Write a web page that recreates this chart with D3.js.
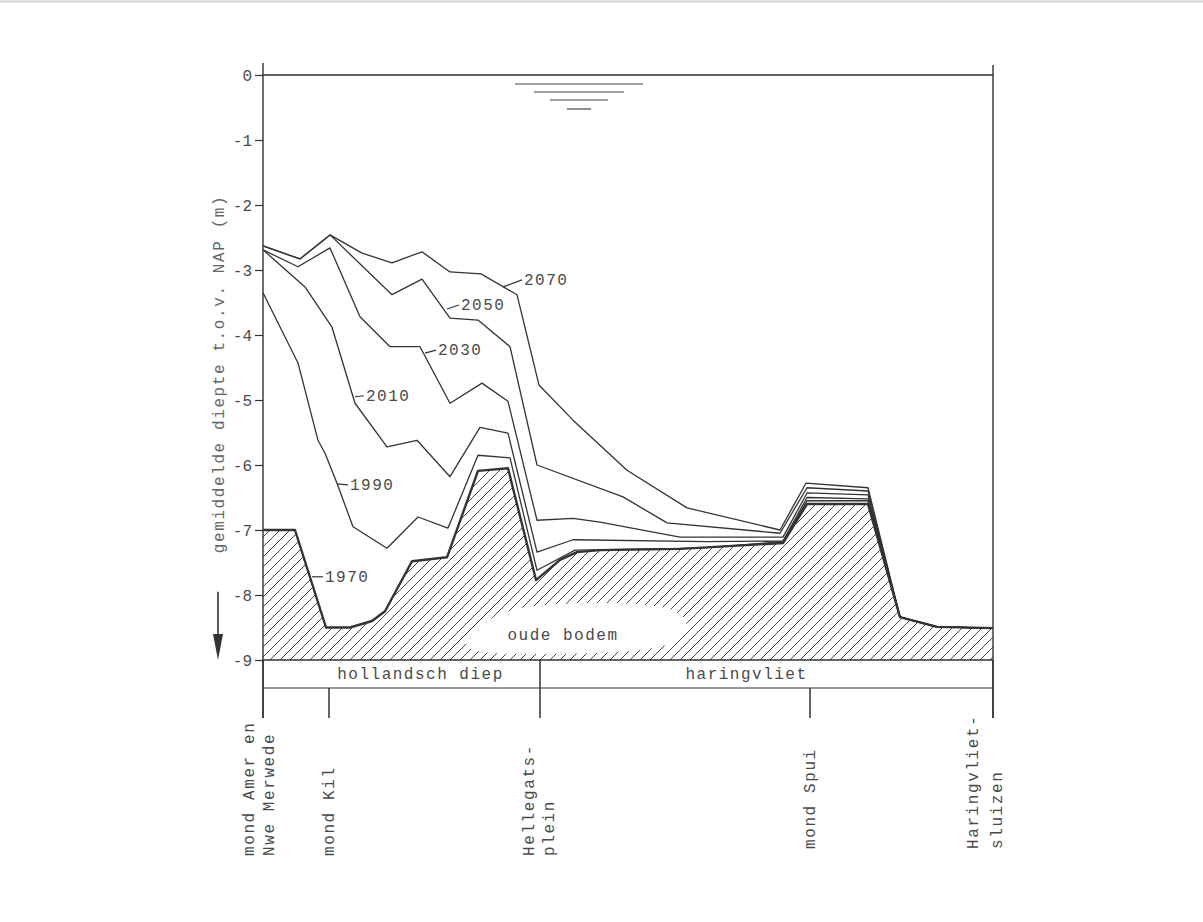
<!DOCTYPE html>
<html lang="nl">
<head>
<meta charset="UTF-8">
<title>Gemiddelde diepte Hollandsch Diep / Haringvliet</title>
<script src="https://d3js.org/d3.v7.min.js"></script>
<style>
    body { margin: 0; background: #fff; }
    svg { display: block; }
    text { font-family: "Liberation Mono", "DejaVu Sans Mono", monospace; fill: #4a4a4a; }
</style>
</head>
<body>
<div id="chart"></div>
<script>
// distance along the river (km from mond Amer) and mean depth (m t.o.v. NAP)
const bed1970 = [[0,-7.0],[1.6,-7.0],[3.15,-8.5],[4.35,-8.5],[5.45,-8.4],[6.1,-8.25],[7.45,-7.48],[9.2,-7.42],
    [10.75,-6.09],[12.25,-6.05],[13.65,-7.77],[14.85,-7.46],[15.7,-7.34],[16.85,-7.31],[20.85,-7.29],[26.0,-7.2],
    [27.2,-6.6],[30.25,-6.6],[31.85,-8.34],[33.7,-8.49],[36.5,-8.51]];
const depth1990 = [[0,-3.35],[1.75,-4.43],[2.75,-5.62],[3.1,-5.82],[3.7,-6.28],[4.5,-6.95],[6.2,-7.28],[7.75,-6.8],
    [9.25,-6.97],[10.75,-5.85],[12.35,-5.89],[13.7,-7.62],[15.6,-7.31],[21.85,-7.28],[26.0,-7.18],
    [27.2,-6.55],[30.25,-6.55],[31.85,-8.34],[33.7,-8.49],[36.5,-8.51]];
const depth2010 = [[0,-2.69],[2.1,-3.26],[3.45,-3.88],[4.6,-5.05],[6.2,-5.72],[7.7,-5.62],[9.35,-6.18],[10.85,-5.42],
    [12.25,-5.51],[13.7,-7.34],[15.5,-7.15],[22.15,-7.18],[26.0,-7.17],[27.2,-6.5],[30.25,-6.52],
    [31.85,-8.34],[33.7,-8.49],[36.5,-8.51]];
const depth2030 = [[0,-2.69],[1.75,-2.95],[3.35,-2.66],[4.85,-3.72],[6.35,-4.18],[7.85,-4.18],[9.35,-5.05],[10.95,-4.74],
    [12.25,-5.02],[13.7,-6.85],[15.5,-6.82],[16.85,-6.88],[20.85,-7.11],[26.0,-7.11],[27.2,-6.43],[30.25,-6.46],
    [31.85,-8.34],[33.7,-8.49],[36.5,-8.51]];
const depth2050 = [[0,-2.63],[1.85,-2.83],[3.35,-2.46],[6.45,-3.38],[7.95,-3.14],[9.35,-3.74],[10.75,-3.77],[12.35,-4.18],
    [13.7,-6.0],[18.0,-6.49],[20.2,-6.89],[25.85,-7.05],[27.2,-6.35],[30.25,-6.4],[31.85,-8.34],[33.7,-8.49],[36.5,-8.51]];
const depth2070 = [[0,-2.63],[1.85,-2.83],[3.35,-2.46],[4.95,-2.74],[6.45,-2.89],[7.95,-2.72],[9.35,-3.03],[10.9,-3.06],
    [12.7,-3.38],[13.8,-4.77],[15.5,-5.31],[18.2,-6.08],[21.2,-6.66],[25.85,-7.0],[27.15,-6.28],[30.25,-6.35],
    [31.85,-8.34],[33.7,-8.49],[36.5,-8.51]];

const years = ["1970", "1990", "2010", "2030", "2050", "2070"];
const yTicks = [0, -1, -2, -3, -4, -5, -6, -7, -8, -9];
const places = [0, 3.3, 13.85, 27.35, 36.5];
const placeNames = [["mond Amer en", "Nwe Merwede"], ["mond Kil"], ["Hellegats-", "plein"], ["mond Spui"], ["Haringvliet-", "sluizen"]];
const reaches = [[0, 13.85, "hollandsch diep"], [13.85, 36.5, "haringvliet"]];

const width = 1203, height = 922;
const x = d3.scaleLinear().domain([0, 36.5]).range([263, 993]);
const y = d3.scaleLinear().domain([0, -9]).range([75, 660]);
const ink = "#333";

const svg = d3.select("#chart").append("svg")
    .attr("width", width).attr("height", height);

// scan edge at the very top
svg.append("line").attr("x1", 0).attr("x2", width).attr("y1", 1.5).attr("y2", 1.5)
    .attr("stroke", "#d0d0d0").attr("stroke-width", 2);

// hatch pattern for the old bed
const pat = svg.append("defs").append("pattern")
    .attr("id", "hatch").attr("patternUnits", "userSpaceOnUse")
    .attr("width", 10).attr("height", 10);
pat.append("path").attr("d", "M-1,1 l2,-2 M0,10 l10,-10 M9,11 l2,-2")
    .attr("stroke", "#444").attr("stroke-width", 1);

const area = d3.area().x(d => x(d[0])).y0(y(-9)).y1(d => y(d[1]));
svg.append("path").datum(bed1970).attr("d", area).attr("fill", "url(#hatch)");

// cleared patch for the "oude bodem" label
const blob = [[9.7, -8.85], [10.6, -8.5], [12.2, -8.2], [15, -8.12], [19, -8.12], [21.3, -8.25],
    [21.3, -8.75], [18, -8.9], [12, -8.92]];
svg.append("path").datum(blob)
    .attr("d", d3.line().x(d => x(d[0])).y(d => y(d[1])).curve(d3.curveBasisClosed))
    .attr("fill", "#fff");
svg.append("text").attr("x", x(15)).attr("y", y(-8.62))
    .attr("text-anchor", "middle").attr("dominant-baseline", "middle")
    .style("font-size", "16px").style("letter-spacing", "1.5px")
    .text("oude bodem");

// frame
svg.append("line").attr("x1", x(0)).attr("x2", x(36.5)).attr("y1", y(0)).attr("y2", y(0))
    .attr("stroke", ink).attr("stroke-width", 1.3);
svg.append("line").attr("x1", x(0)).attr("x2", x(0)).attr("y1", 63).attr("y2", 718)
    .attr("stroke", ink).attr("stroke-width", 1.4);
svg.append("line").attr("x1", x(36.5)).attr("x2", x(36.5)).attr("y1", 65).attr("y2", 718)
    .attr("stroke", ink).attr("stroke-width", 1.4);

// water level sign
[[9, 64], [17, 45], [25, 29], [34, 12]].forEach(([dy, hw]) => {
    svg.append("line").attr("x1", x(15.8) - hw).attr("x2", x(15.8) + hw)
        .attr("y1", y(0) + dy).attr("y2", y(0) + dy)
        .attr("stroke", "#444").attr("stroke-width", 1.2);
});

// y axis
const yAxis = svg.append("g").attr("transform", `translate(${x(0)},0)`)
    .call(d3.axisLeft(y).tickValues(yTicks).tickSize(8).tickPadding(3)
        .tickFormat(d => d === 0 ? "0" : "-" + Math.abs(d)));
yAxis.select(".domain").remove();
yAxis.selectAll("line").attr("stroke", ink).attr("stroke-width", 1.2);
yAxis.selectAll("text").style("font-size", "16px").style("font-family", "Liberation Mono, monospace")
    .attr("fill", "#4a4a4a");

svg.append("text")
    .attr("transform", `translate(224,${y(-4.6)}) rotate(-90)`)
    .attr("text-anchor", "middle")
    .style("font-size", "16px").style("letter-spacing", "1.6px")
    .style("fill", "#666")
    .text("gemiddelde diepte t.o.v. NAP (m)");

// arrow down
svg.append("line").attr("x1", 218).attr("x2", 218).attr("y1", y(-7.95)).attr("y2", y(-8.7))
    .attr("stroke", ink).attr("stroke-width", 1.6);
svg.append("path").attr("d", `M213,${y(-8.6)} L223,${y(-8.6)} L218,${y(-9)} Z`).attr("fill", ink);

// depth profiles
const line = d3.line().x(d => x(d[0])).y(d => y(d[1]));
const series = [bed1970, depth1990, depth2010, depth2030, depth2050, depth2070];
svg.append("g").selectAll("path")
    .data(series.slice().reverse())
    .join("path")
    .attr("d", line)
    .attr("fill", "none")
    .attr("stroke", ink)
    .attr("stroke-linejoin", "round")
    .attr("stroke-width", d => d === bed1970 ? 2.4 : 1.3);

// year labels with leaders
const spots = [[2.45, -7.72, 11, 0], [3.7, -6.29, 11, 1], [4.6, -4.95, 9, -1],
    [8.1, -4.28, 11, -3], [9.2, -3.6, 12, -4], [12.0, -3.26, 19, -7]];
years.forEach((yr, i) => {
    const [k, dep, dx, dy] = spots[i];
    const px = x(k), py = y(dep);
    svg.append("line").attr("x1", px).attr("y1", py).attr("x2", px + dx).attr("y2", py + dy)
        .attr("stroke", ink).attr("stroke-width", 1.2);
    svg.append("text").attr("x", px + dx + 2).attr("y", py + dy + 1)
        .attr("dominant-baseline", "middle")
        .style("font-size", "16px").style("letter-spacing", "1.5px")
        .text(yr);
});

// reach band
svg.append("line").attr("x1", x(0)).attr("x2", x(36.5)).attr("y1", y(-9)).attr("y2", y(-9))
    .attr("stroke", ink).attr("stroke-width", 1.3);
svg.append("line").attr("x1", x(0)).attr("x2", x(36.5)).attr("y1", 688).attr("y2", 688)
    .attr("stroke", ink).attr("stroke-width", 1.2);
reaches.forEach(([a, b, name]) => {
    svg.append("text").attr("x", (x(a) + x(b)) / 2 + (a === 0 ? 19 : -20)).attr("y", 675)
        .attr("text-anchor", "middle").attr("dominant-baseline", "middle")
        .style("font-size", "16px").style("letter-spacing", "1.5px")
        .text(name);
});

// place ticks and names
places.forEach((p, i) => {
    const top = (i === 1 || i === 3) ? 688 : y(-9);
    svg.append("line").attr("x1", x(p)).attr("x2", x(p)).attr("y1", top).attr("y2", 718)
        .attr("stroke", ink).attr("stroke-width", 1.5);
    const lines = placeNames[i];
    const n = lines.length;
    lines.forEach((t, j) => {
        const cx = n === 1 ? x(p) + 5 : x(p) + (i === 4 ? -15 : (i === 0 ? -9 : -6)) + j * (i === 4 ? 24 : 20);
        svg.append("text")
            .attr("transform", `translate(${cx},${i >= 3 ? 849 : 856}) rotate(-90)`)
            .style("font-size", "16px").style("letter-spacing", "1.6px")
            .text(t);
    });
});
</script>
</body>
</html>
